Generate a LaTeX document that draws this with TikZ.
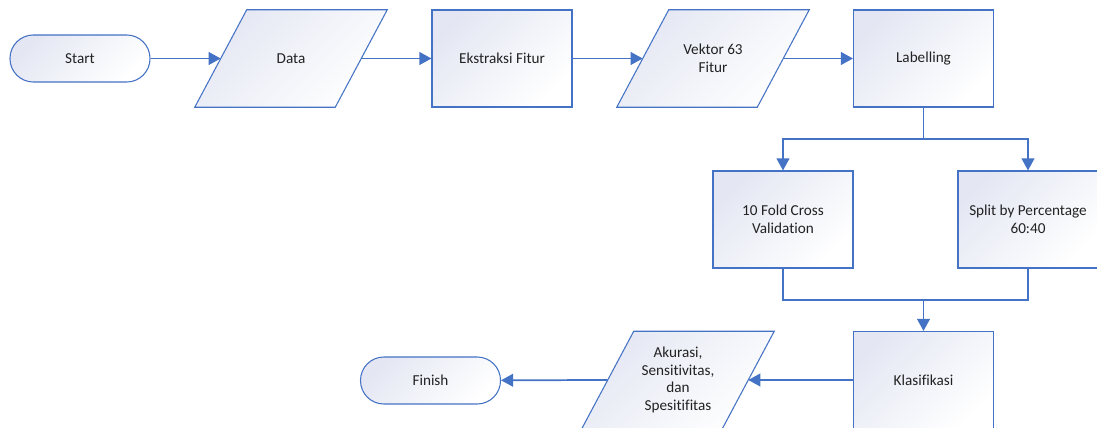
\documentclass[tikz,border=0pt]{standalone}
\usepackage{fontspec}
\setmainfont{Carlito}[Ligatures=NoCommon]
\usetikzlibrary{arrows.meta,backgrounds}
\definecolor{flowblue}{HTML}{4472C4}
\definecolor{flowfill}{HTML}{E4E7F3}
\definecolor{flowtext}{HTML}{222222}
\begin{document}
\begin{tikzpicture}[x=0.75pt,y=-0.75pt,
    font=\fontsize{11.4}{13.4}\selectfont,text=flowtext,
    shapebase/.style={draw=flowblue,line width=0.8pt,top color=flowfill,
        bottom color=white,shading angle=45},
    terminal/.style={shapebase,rectangle,rounded corners=17.5pt,
        minimum width=105pt,minimum height=35.25pt,align=center},
    process/.style={shapebase,rectangle,minimum width=105pt,
        minimum height=72.75pt,align=center},
    io/.style={rectangle,minimum width=105pt,minimum height=72.75pt,
        align=center,inner sep=2pt},
    flow/.style={draw=flowblue,line width=1.3pt},
    arrow/.style={flow,-{Triangle[length=9pt,width=9.5pt]}}]
    \clip (0,0) rectangle (1097,428);
    \useasboundingbox (0,0) rectangle (1097,428);

    % top row
    \node[terminal] (start) at (80,58.5) {Start};
    \node[io] (data) at (291,58.5) {Data};
    \node[process] (ekstraksi) at (502,58.5) {Ekstraksi Fitur};
    \node[io] (vektor) at (713,58.5) {Vektor 63\\Fitur};
    \node[process] (labelling) at (923.5,58.5) {Labelling};

    % two ways of splitting
    \node[process] (fold) at (783,219.5) {10 Fold Cross\\Validation};
    \node[process] (split) at (1028,219.5) {Split by Percentage\\60:40};

    % bottom row
    \node[process] (klasifikasi) at (923.5,380) {Klasifikasi};
    \node[io] (akurasi) at (678,380)
        {Akurasi,\\Sensitivitas,\\dan\\Spesitifitas};
    \node[terminal] (finish) at (430.5,380.5) {Finish};

    % slanted input/output boxes behind their texts
    \begin{scope}[on background layer]
        \foreach \n in {data,vektor,akurasi}
            \path[shapebase] ([xshift=-19.5pt]\n.south west)
                -- ([xshift=-19.5pt]\n.south east)
                -- ([xshift=19.5pt]\n.north east)
                -- ([xshift=19.5pt]\n.north west) -- cycle;
    \end{scope}

    \coordinate (branch) at (923.5,139);
    \coordinate (merge) at (923.5,300);

    \draw[arrow] (start) -- (data.west);
    \draw[arrow] (data.east) -- (ekstraksi);
    \draw[arrow] (ekstraksi) -- (vektor.west);
    \draw[arrow] (vektor.east) -- (labelling);

    \draw[flow] (labelling.south) -- (branch);
    \draw[arrow] (branch) -| (fold.north);
    \draw[arrow] (branch) -| (split.north);

    \draw[flow] (fold.south) |- (merge) -| (split.south);
    \draw[arrow] (merge) -- (klasifikasi.north);

    \draw[arrow] (klasifikasi) -- (akurasi.east);
    \draw[arrow] (akurasi.west) -- (finish);
\end{tikzpicture}
\end{document}
